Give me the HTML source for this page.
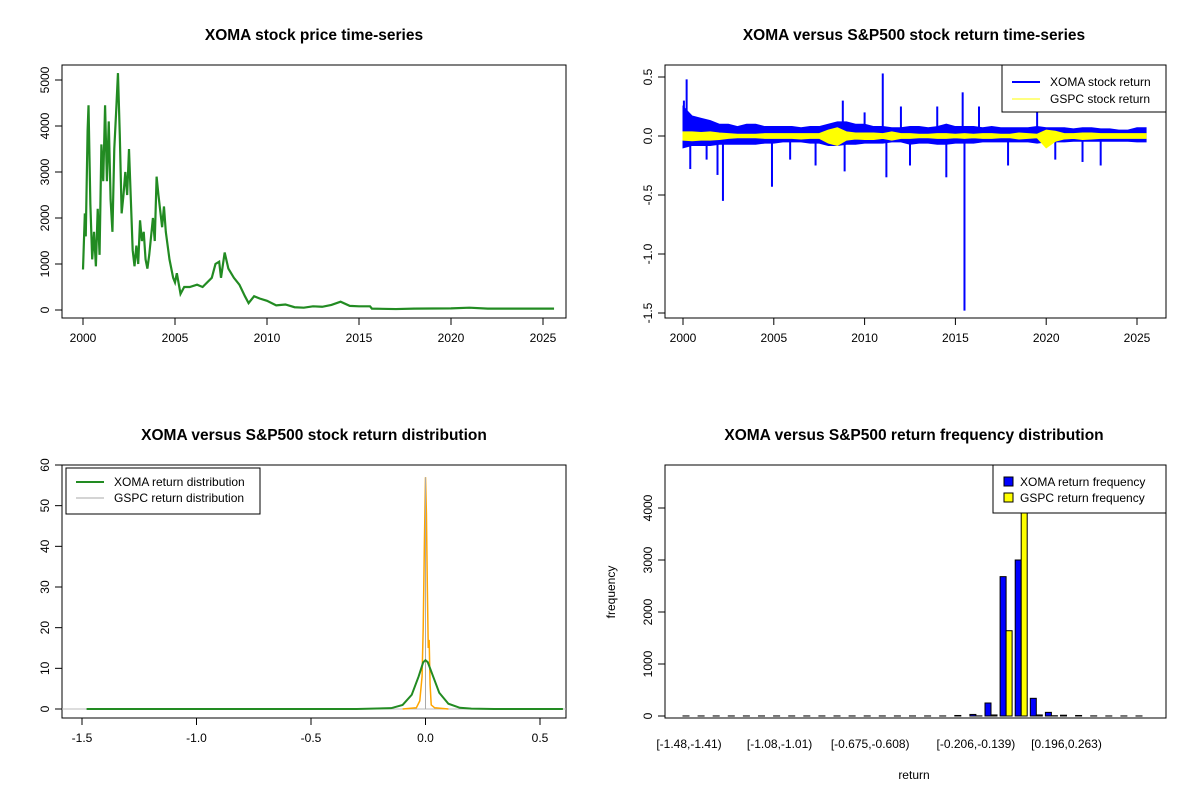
<!DOCTYPE html>
<html><head><meta charset="utf-8"><style>
body{margin:0;background:#fff;}
svg text{font-family:"Liberation Sans",Arial,sans-serif;}
</style></head><body>
<svg id="c" width="1200" height="800" xmlns="http://www.w3.org/2000/svg"></svg>
<script>
// ---------- data ----------
const priceYears=[2000.0,2000.1,2000.15,2000.25,2000.3,2000.4,2000.5,2000.6,2000.7,2000.8,2000.9,2001.0,2001.1,2001.2,2001.3,2001.4,2001.5,2001.6,2001.7,2001.8,2001.9,2002.0,2002.1,2002.2,2002.3,2002.4,2002.5,2002.6,2002.7,2002.8,2002.9,2003.0,2003.1,2003.2,2003.3,2003.4,2003.5,2003.6,2003.8,2003.9,2004.0,2004.1,2004.3,2004.4,2004.5,2004.7,2004.9,2005.0,2005.1,2005.3,2005.5,2005.8,2006.2,2006.5,2007.0,2007.2,2007.4,2007.5,2007.7,2007.9,2008.2,2008.5,2008.8,2009.0,2009.3,2009.6,2010.0,2010.5,2011.0,2011.5,2012.0,2012.5,2013.0,2013.5,2014.0,2014.5,2015.0,2015.6,2015.7,2017.0,2018.0,2020.0,2021.0,2022.0,2025.6];
const priceValues=[880,2100,1600,3900,4450,2300,1100,1700,950,2200,1200,3600,2800,4450,2800,4100,2400,1700,3500,4300,5150,3800,2100,2500,3000,2500,3500,2400,1300,950,1400,1000,1950,1500,1700,1100,900,1200,2000,1500,2900,2500,1800,2250,1700,1100,700,600,800,350,500,500,550,500,700,1000,1050,700,1250,900,700,550,300,150,300,250,200,100,120,60,50,80,70,110,180,90,80,80,30,20,30,35,50,30,30];
const priceTicks=[0,1000,2000,3000,4000,5000];
const yearTicks=[2000,2005,2010,2015,2020,2025];
const xomaUp=[0.25,0.17,0.15,0.13,0.1,0.1,0.08,0.1,0.1,0.08,0.08,0.08,0.08,0.07,0.08,0.08,0.1,0.12,0.12,0.1,0.1,0.08,0.08,0.07,0.07,0.08,0.08,0.07,0.08,0.1,0.08,0.08,0.08,0.07,0.08,0.07,0.07,0.07,0.07,0.08,0.07,0.07,0.07,0.06,0.07,0.07,0.06,0.06,0.05,0.05,0.07,0.07];
const xomaDown=[-0.1,-0.08,-0.08,-0.08,-0.07,-0.07,-0.07,-0.07,-0.07,-0.06,-0.06,-0.05,-0.05,-0.05,-0.06,-0.06,-0.08,-0.08,-0.07,-0.07,-0.06,-0.06,-0.06,-0.05,-0.05,-0.07,-0.06,-0.06,-0.07,-0.07,-0.06,-0.06,-0.06,-0.05,-0.05,-0.05,-0.05,-0.05,-0.05,-0.06,-0.05,-0.05,-0.05,-0.045,-0.045,-0.045,-0.045,-0.045,-0.045,-0.045,-0.05,-0.05];
const gspcUp=[0.035,0.035,0.03,0.035,0.025,0.02,0.015,0.015,0.015,0.02,0.02,0.02,0.02,0.02,0.02,0.02,0.05,0.07,0.035,0.025,0.025,0.025,0.02,0.035,0.02,0.02,0.015,0.015,0.02,0.02,0.015,0.02,0.015,0.02,0.02,0.015,0.015,0.025,0.02,0.015,0.05,0.04,0.02,0.02,0.025,0.025,0.02,0.02,0.02,0.02,0.02,0.02];
const gspcDown=[-0.035,-0.04,-0.035,-0.035,-0.03,-0.02,-0.015,-0.015,-0.015,-0.02,-0.02,-0.02,-0.02,-0.025,-0.02,-0.02,-0.06,-0.08,-0.035,-0.025,-0.03,-0.03,-0.02,-0.035,-0.02,-0.02,-0.015,-0.015,-0.02,-0.02,-0.015,-0.02,-0.015,-0.02,-0.02,-0.015,-0.015,-0.025,-0.02,-0.015,-0.1,-0.045,-0.025,-0.02,-0.03,-0.025,-0.02,-0.02,-0.02,-0.02,-0.02,-0.02];
const spikeYears=[2000.05,2000.2,2000.4,2001.3,2001.9,2002.2,2004.9,2005.9,2007.3,2008.8,2008.9,2010.0,2011.0,2011.2,2012.0,2012.5,2014.0,2014.5,2015.4,2015.5,2016.3,2017.9,2019.5,2020.5,2022.0,2023.0];
const spikeValues=[0.3,0.48,-0.28,-0.2,-0.33,-0.55,-0.43,-0.2,-0.25,0.3,-0.3,0.2,0.53,-0.35,0.25,-0.25,0.25,-0.35,0.37,-1.48,0.25,-0.25,0.2,-0.2,-0.22,-0.25];
const retTicks=[0.5,0,-0.5,-1,-1.5];
const retTickLabels=["0.5","0.0","-0.5","-1.0","-1.5"];
const densXomaX=[-1.48,-0.3,-0.15,-0.1,-0.06,-0.03,-0.01,0,0.01,0.03,0.06,0.1,0.15,0.2,0.3,0.6];
const densXomaY=[0,0,0.2,1,3.5,8,11.5,12,11.5,8.5,4,1.3,0.3,0.1,0,0];
const densGspcX=[-0.1,-0.04,-0.025,-0.015,-0.01,-0.005,0,0.004,0.008,0.012,0.016,0.02,0.025,0.04,0.1];
const densGspcY=[0,0.3,2,8,20,40,57,48,30,15,17,6,1,0.3,0];
const densXTicks=[-1.5,-1,-0.5,0,0.5];
const densXLabels=["-1.5","-1.0","-0.5","0.0","0.5"];
const densYTicks=[0,10,20,30,40,50,60];
const histXoma=[1,1,1,1,1,1,1,1,1,1,1,1,1,1,1,1,1,1,10,30,250,2680,3000,340,70,15,10,2,1,1,1];
const histGspc=[0,0,0,0,0,0,0,0,0,0,0,0,0,0,0,0,0,0,0,2,20,1640,4700,20,5,0,0,0,0,0,0];
const histLabels=["[-1.48,-1.41)","[-1.08,-1.01)","[-0.675,-0.608)","[-0.206,-0.139)","[0.196,0.263)"];
const histLabelIdx=[0,6,12,19,25];
const histYTicks=[0,1000,2000,3000,4000];

// ---------- helpers ----------
const S=document.getElementById('c');const NS='http://www.w3.org/2000/svg';
function mk(t,a,p){const e=document.createElementNS(NS,t);for(const k in a)e.setAttribute(k,a[k]);(p||S).appendChild(e);return e;}
function txt(x,y,s,a,p){const e=mk('text',Object.assign({x:x,y:y,'font-size':12,fill:'#000'},a||{}),p);e.textContent=s;return e;}
function lin(d0,d1,r0,r1){return v=>r0+(v-d0)*(r1-r0)/(d1-d0);}
function box(x0,y0,x1,y1,name){const r=mk('rect',{x:x0,y:y0,width:x1-x0,height:y1-y0,fill:'none',stroke:'#000','stroke-width':1});}
function xaxis(ticks,labels,sx,y){const g=mk('g',{});
 mk('line',{x1:sx(ticks[0]),x2:sx(ticks[ticks.length-1]),y1:y,y2:y,stroke:'#000'},g);
 ticks.forEach((t,i)=>{mk('line',{x1:sx(t),x2:sx(t),y1:y,y2:y+7,stroke:'#000'},g);txt(sx(t),y+24,labels[i],{'text-anchor':'middle'},g);});}
function yaxis(ticks,labels,sy,x){const g=mk('g',{});
 mk('line',{x1:x,x2:x,y1:sy(ticks[0]),y2:sy(ticks[ticks.length-1]),stroke:'#000'},g);
 ticks.forEach((t,i)=>{mk('line',{x1:x,x2:x-7,y1:sy(t),y2:sy(t),stroke:'#000'},g);const yy=sy(t);txt(x-13,yy,labels[i],{'text-anchor':'middle',transform:`rotate(-90 ${x-13} ${yy})`},g);});}
function title(x,y,s){const t=txt(x,y,s,{'text-anchor':'middle','font-size':15.5,'font-weight':'bold'});}

// ---------- panel 1 ----------
{const sx=lin(2000,2025,83,543),sy=lin(0,5000,310,80);
title(314,40,'XOMA stock price time-series');box(62,65,566,318,'price-plot-area');
xaxis(yearTicks,yearTicks.map(String),sx,318);yaxis(priceTicks,priceTicks.map(String),sy,62);
const p=mk('polyline',{points:priceYears.map((y,i)=>sx(y)+','+sy(priceValues[i])).join(' '),fill:'none',stroke:'#228B22','stroke-width':2.2});
}

// ---------- panel 2 ----------
{const sx=lin(2000,2025,683,1137),sy=lin(0,0.5,136,77);
title(914,40,'XOMA versus S&P500 stock return time-series');box(665,65,1166,318,'return-plot-area');
xaxis(yearTicks,yearTicks.map(String),sx,318);yaxis(retTicks,retTickLabels,sy,665);
const yrs=xomaUp.map((_,i)=>2000+i*0.5);
const band=(up,dn,col,name)=>{const pts=yrs.map((y,i)=>sx(y)+','+sy(up[i])).concat(yrs.slice().reverse().map((y,j)=>{const i=yrs.length-1-j;return sx(y)+','+sy(dn[i]);}));
 const e=mk('polygon',{points:pts.join(' '),fill:col,stroke:col,'stroke-width':1});};
band(xomaUp,xomaDown,'#0000FF','xoma-return-band');
spikeYears.forEach((y,i)=>{const l=mk('line',{x1:sx(y),x2:sx(y),y1:sy(0),y2:sy(spikeValues[i]),stroke:'#0000FF','stroke-width':2});});
band(gspcUp,gspcDown,'#FFFF00','gspc-return-band');
const lg=mk('g',{});
mk('rect',{x:1002,y:65,width:164,height:47,fill:'#fff',stroke:'#000'},lg);
mk('line',{x1:1012,x2:1040,y1:82,y2:82,stroke:'#0000FF','stroke-width':2},lg);txt(1050,86,'XOMA stock return',{},lg);
mk('line',{x1:1012,x2:1040,y1:99,y2:99,stroke:'#FFFF00','stroke-width':1},lg);txt(1050,103,'GSPC stock return',{},lg);}

// ---------- panel 3 ----------
{const sx=lin(-1.5,0.5,82,540),sy=lin(0,60,709,465);
title(314,440,'XOMA versus S&P500 stock return distribution');box(62,465,566,718,'density-plot-area');
xaxis(densXTicks,densXLabels,sx,718);yaxis(densYTicks,densYTicks.map(String),sy,62);
mk('line',{x1:62,x2:566,y1:sy(0),y2:sy(0),stroke:'#bbb'});
const g=mk('polyline',{points:densGspcX.map((x,i)=>sx(x)+','+sy(densGspcY[i])).join(' '),fill:'none',stroke:'#FFA500','stroke-width':1.5});

const gr=mk('line',{x1:sx(0),x2:sx(0),y1:sy(0),y2:sy(57),stroke:'#aaa','stroke-width':1});
const x=mk('polyline',{points:densXomaX.map((v,i)=>sx(v)+','+sy(densXomaY[i])).join(' '),fill:'none',stroke:'#228B22','stroke-width':2});

const lg=mk('g',{});
mk('rect',{x:66,y:468,width:194,height:46,fill:'#fff',stroke:'#000'},lg);
mk('line',{x1:76,x2:104,y1:482,y2:482,stroke:'#228B22','stroke-width':2},lg);txt(114,486,'XOMA return distribution',{},lg);
mk('line',{x1:76,x2:104,y1:498,y2:498,stroke:'#aaa','stroke-width':1},lg);txt(114,502,'GSPC return distribution',{},lg);}

// ---------- panel 4 ----------
{const gx=i=>689+i*15.1,sy=lin(0,4000,716,508);
title(914,440,'XOMA versus S&P500 return frequency distribution');
const ya=histYTicks;yaxis(ya,ya.map(String),sy,665);
const cl=mk('clipPath',{id:'hc'});mk('rect',{x:665,y:465,width:501,height:253},cl);
const bars=mk('g',{'clip-path':'url(#hc)'});
histXoma.forEach((v,i)=>{const r=mk('rect',{x:gx(i)-6,y:sy(v),width:6,height:sy(0)-sy(v),fill:'#0000FF',stroke:'#000','stroke-width':1},bars);
 const h=histGspc[i];const r2=mk('rect',{x:gx(i),y:sy(h),width:6,height:sy(0)-sy(h),fill:'#FFFF00',stroke:'#000','stroke-width':1},bars);});
box(665,465,1166,718,'histogram-plot-area');
histLabelIdx.forEach((i,k)=>{const t=txt(gx(i),748,histLabels[k],{'text-anchor':'middle'});});
const xt=txt(914,779,'return',{'text-anchor':'middle'});
const yt=txt(615,592,'frequency',{'text-anchor':'middle',transform:'rotate(-90 615 592)'});
const lg=mk('g',{});
mk('rect',{x:993,y:465,width:173,height:48,fill:'#fff',stroke:'#000'},lg);
mk('rect',{x:1004,y:477,width:9,height:9,fill:'#0000FF',stroke:'#000'},lg);txt(1020,486,'XOMA return frequency',{},lg);
mk('rect',{x:1004,y:493,width:9,height:9,fill:'#FFFF00',stroke:'#000'},lg);txt(1020,502,'GSPC return frequency',{},lg);}
</script>
</body></html>
